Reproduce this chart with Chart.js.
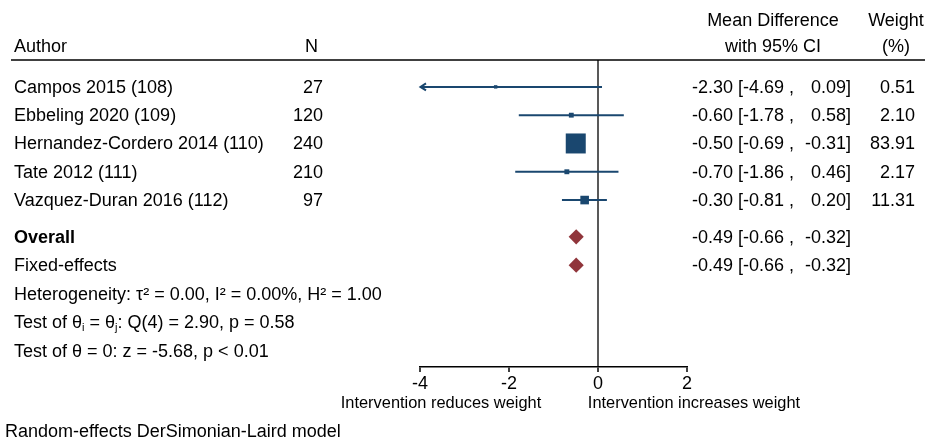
<!DOCTYPE html>
<html>
<head>
<meta charset="utf-8">
<title>Forest plot – mean difference in weight</title>
<script src="https://cdn.jsdelivr.net/npm/chart.js@4.4.1/dist/chart.umd.min.js"></script>
<style>
  html, body { margin: 0; padding: 0; background: #fff; }
  #wrap { width: 925px; height: 440px; }
</style>
</head>
<body>
<div id="wrap"><canvas id="forest" width="925" height="440"></canvas></div>
<script>
// ---- Study data ----
const authors     = ['Campos 2015 (108)', 'Ebbeling 2020 (109)', 'Hernandez-Cordero 2014 (110)', 'Tate 2012 (111)', 'Vazquez-Duran 2016 (112)'];
const sampleSizes = [27, 120, 240, 210, 97];
const meanDiff    = [-2.30, -0.60, -0.50, -0.70, -0.30];
const ciLower     = [-4.69, -1.78, -0.69, -1.86, -0.81];
const ciUpper     = [0.09, 0.58, -0.31, 0.46, 0.20];
const weights     = [0.51, 2.10, 83.91, 2.17, 11.31];

// ---- Pooled estimates ----
const pooledLabels = ['Overall', 'Fixed-effects'];
const pooledMean   = [-0.49, -0.49];
const pooledLower  = [-0.66, -0.66];
const pooledUpper  = [-0.32, -0.32];

// ---- Heterogeneity statistics ----
const tau2 = 0.00, iSquared = 0.00, hSquared = 1.00;
const qStat = 2.90, qDf = 4, qP = 0.58;
const zStat = -5.68, zP = '< 0.01';

// ---- Axis ----
const xTicks = [-4, -2, 0, 2];

const NAVY = '#1a476f';
const MAROON = '#90353b';
const FONT = '"Liberation Sans", Arial, Helvetica, sans-serif';
const TEXT_NUDGE = 1; // optical centring of text on its row

// Vertical slot of each row on the (reversed) y scale
const studyRow  = authors.map((_, i) => i + 1);
const pooledRow = [6.3, 7.3];
const statsRow  = [8.33, 9.32, 10.35];

const fmt = v => v.toFixed(2);

// One short line per study for its confidence interval
const ciDatasets = authors.map((a, i) => ({
  type: 'line',
  label: a,
  data: [{ x: ciLower[i], y: studyRow[i] }, { x: ciUpper[i], y: studyRow[i] }],
  borderColor: NAVY,
  borderWidth: 2,
  pointRadius: 0,
  fill: false,
  order: 3
}));

// Study markers: square area grows with the study weight
const maxW = Math.max(...weights);
const squareSide = w => 2 + 18 * Math.sqrt(w / maxW);

const studyMarkers = {
  type: 'scatter',
  label: 'Studies',
  data: meanDiff.map((m, i) => ({ x: m, y: studyRow[i] })),
  pointStyle: 'rect',
  pointRadius: ctx => squareSide(weights[ctx.dataIndex]) / Math.SQRT2,
  backgroundColor: NAVY,
  borderWidth: 0,
  order: 2
};

// Pooled diamonds span their confidence interval
const pooledMarkers = {
  type: 'scatter',
  label: 'Pooled',
  data: pooledMean.map((m, i) => ({ x: m, y: pooledRow[i] })),
  pointStyle: 'rectRot',
  pointRadius: ctx => {
    const s = ctx.chart.scales.x;
    const i = ctx.dataIndex;
    return (s.getPixelForValue(pooledUpper[i]) - s.getPixelForValue(pooledLower[i])) / 2;
  },
  backgroundColor: MAROON,
  borderWidth: 0,
  order: 1
};

// Draws a run of text pieces, some of them as subscripts
function drawRich(ctx, pieces, x, y, size) {
  let cx = x;
  pieces.forEach(p => {
    if (p.sub) {
      ctx.font = `${Math.round(size * 0.62)}px ${FONT}`;
      ctx.fillText(p.t, cx, y + size * 0.28);
    } else {
      ctx.font = `${size}px ${FONT}`;
      ctx.fillText(p.t, cx, y);
    }
    cx += ctx.measureText(p.t).width;
  });
}

const tablePlugin = {
  id: 'forestTable',
  afterDraw(chart) {
    const ctx = chart.ctx;
    const xs = chart.scales.x;
    const ys = chart.scales.y;
    const area = chart.chartArea;
    const size = 18;
    const rowY = v => ys.getPixelForValue(v) + TEXT_NUDGE;
    ctx.save();
    ctx.fillStyle = '#000';
    ctx.textBaseline = 'middle';

    // Header
    ctx.font = `${size}px ${FONT}`;
    ctx.textAlign = 'left';
    ctx.fillText('Author', 14, 47);
    ctx.textAlign = 'right';
    ctx.fillText('N', 318, 47);
    ctx.textAlign = 'center';
    ctx.fillText('Mean Difference', 773, 21);
    ctx.fillText('with 95% CI', 773, 47);
    ctx.fillText('Weight', 896, 21);
    ctx.fillText('(%)', 896, 47);

    // Rule under the header
    ctx.strokeStyle = '#000';
    ctx.lineWidth = 1.5;
    ctx.beginPath();
    ctx.moveTo(11, area.top);
    ctx.lineTo(925, area.top);
    ctx.stroke();

    // Study rows
    authors.forEach((a, i) => {
      const y = rowY(studyRow[i]);
      ctx.font = `${size}px ${FONT}`;
      ctx.textAlign = 'left';
      ctx.fillText(a, 14, y);
      ctx.textAlign = 'right';
      ctx.fillText(String(sampleSizes[i]), 323, y);
      ctx.textAlign = 'left';
      ctx.fillText(`${fmt(meanDiff[i])} [${fmt(ciLower[i])} ,`, 692, y);
      ctx.textAlign = 'right';
      ctx.fillText(`${fmt(ciUpper[i])}]`, 851, y);
      ctx.fillText(fmt(weights[i]), 915, y);
    });

    // Pooled rows
    pooledLabels.forEach((lab, i) => {
      const y = rowY(pooledRow[i]);
      ctx.font = `${i === 0 ? 'bold ' : ''}${size}px ${FONT}`;
      ctx.textAlign = 'left';
      ctx.fillText(lab, 14, y);
      ctx.font = `${size}px ${FONT}`;
      ctx.fillText(`${fmt(pooledMean[i])} [${fmt(pooledLower[i])} ,`, 692, y);
      ctx.textAlign = 'right';
      ctx.fillText(`${fmt(pooledUpper[i])}]`, 851, y);
    });

    // Heterogeneity and tests
    ctx.textAlign = 'left';
    drawRich(ctx, [{ t: `Heterogeneity: \u03C4\u00B2 = ${fmt(tau2)}, I\u00B2 = ${fmt(iSquared)}%, H\u00B2 = ${fmt(hSquared)}` }],
      14, rowY(statsRow[0]), size);
    drawRich(ctx, [
      { t: 'Test of \u03B8' }, { t: 'i', sub: true }, { t: ' = \u03B8' }, { t: 'j', sub: true },
      { t: `: Q(${qDf}) = ${fmt(qStat)}, p = ${fmt(qP)}` }
    ], 14, rowY(statsRow[1]), size);
    drawRich(ctx, [{ t: `Test of \u03B8 = 0: z = ${fmt(zStat)}, p ${zP}` }],
      14, rowY(statsRow[2]), size);

    // Arrowheads where an interval runs past the axis range
    ctx.strokeStyle = NAVY;
    ctx.lineWidth = 2;
    authors.forEach((a, i) => {
      const y = ys.getPixelForValue(studyRow[i]);
      if (ciLower[i] < xs.min) {
        const x0 = xs.getPixelForValue(xs.min);
        ctx.beginPath();
        ctx.moveTo(x0 + 6, y - 3.5);
        ctx.lineTo(x0 + 0.5, y);
        ctx.lineTo(x0 + 6, y + 3.5);
        ctx.stroke();
      }
      if (ciUpper[i] > xs.max) {
        const x1 = xs.getPixelForValue(xs.max);
        ctx.beginPath();
        ctx.moveTo(x1 - 6, y - 3.5);
        ctx.lineTo(x1 - 0.5, y);
        ctx.lineTo(x1 - 6, y + 3.5);
        ctx.stroke();
      }
    });

    // Axis captions and model note
    ctx.fillStyle = '#000';
    ctx.font = `16.4px ${FONT}`;
    ctx.textAlign = 'center';
    ctx.fillText('Intervention reduces weight', 441, 403);
    ctx.fillText('Intervention increases weight', 694, 403);
    ctx.font = `${size}px ${FONT}`;
    ctx.textAlign = 'left';
    ctx.fillText('Random-effects DerSimonian-Laird model', 5, 432);

    ctx.restore();
  }
};

new Chart(document.getElementById('forest'), {
  data: { datasets: [...ciDatasets, studyMarkers, pooledMarkers] },
  options: {
    responsive: false,
    devicePixelRatio: 1,
    animation: false,
    events: [],
    layout: { padding: { left: 420, right: 238, top: 60, bottom: 0 } },
    plugins: { legend: { display: false }, tooltip: { enabled: false } },
    scales: {
      x: {
        type: 'linear',
        min: xTicks[0],
        max: xTicks[xTicks.length - 1],
        z: 1,
        afterBuildTicks: s => { s.ticks = xTicks.map(v => ({ value: v })); },
        afterFit: s => { s.height = 440 - 367; },
        ticks: {
          color: '#000',
          font: { family: FONT, size: 18 },
          padding: 1,
          maxRotation: 0,
          callback: v => String(v)
        },
        grid: {
          color: c => (c.tick && c.tick.value === 0 ? '#595959' : 'rgba(0,0,0,0)'),
          lineWidth: 2,
          tickColor: '#000',
          tickLength: 5,
          tickWidth: 1.5
        },
        border: { display: true, color: '#000', width: 1.5 }
      },
      y: {
        type: 'linear',
        display: false,
        reverse: true,
        min: 0.05,
        max: 10.9
      }
    }
  },
  plugins: [tablePlugin]
});
</script>
</body>
</html>
